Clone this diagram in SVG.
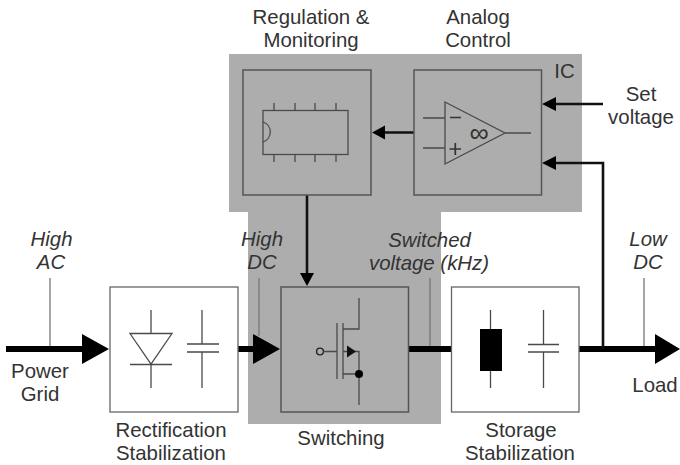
<svg xmlns="http://www.w3.org/2000/svg" width="680" height="465" viewBox="0 0 680 465">
<defs>
<style>
text{font-family:"Liberation Sans",Arial,sans-serif;font-size:20.400px;fill:#333;text-anchor:middle}
.i{font-style:italic}
.box{fill:none;stroke:#555;stroke-width:1.5}
.wbox{fill:#fff;stroke:#666;stroke-width:1.3}
.thin{fill:none;stroke:#777;stroke-width:1.3}
.sym{fill:none;stroke:#4a4a4a;stroke-width:1.3}
.sign{fill:none;stroke:#333;stroke-width:1.700}
.med{fill:none;stroke:#111;stroke-width:2.600}
.thick{fill:none;stroke:#000;stroke-width:6}
</style>
</defs>
<rect width="680" height="465" fill="#fff"/>
<path id="gray-region" d="M229 54H582V212H441V424H248V212H229Z" fill="#adadad"/>
<g id="connectors">
<path class="thin" d="M50 278V349M259 278V336M430 278V349M644 278V349"/>
<path class="thick" d="M6 349H84M238 349H255M408 349H452M579 349H657"/>
<path d="M82 334L109 349L82 364ZM253 334L280 349L253 364ZM655 334L680 349L655 364Z" fill="#000"/>
<path class="med" d="M414 132.500H384M307 195V274M603 349V163H555M603 104H555"/>
<path d="M372 132.500L385 125.500V139.500ZM307 286L300 273H314ZM542 163L556 156V170ZM542 104L556 97V111Z" fill="#000"/>
</g>
<g id="regulation">
<rect class="box" x="243" y="70" width="128" height="125"/>
<rect class="sym" x="263" y="110.500" width="85" height="44"/>
<path class="sym" d="M263 122A10.500 10.500 0 0 1 263 142M274 103V110M295 103V110M315 103V110M336 103V110M274 155V162M295 155V162M315 155V162M336 155V162"/>
<text x="311" y="24">Regulation &amp;</text>
<text x="311" y="47">Monitoring</text>
</g>
<g id="analog">
<rect class="box" x="414" y="70" width="127.500" height="125"/>
<path class="sym" d="M445 102L505 133L445 164ZM423 118H445M423 148H445M505 133H531"/>
<path class="sign" d="M450 117.500H461M449.500 149H461M455.300 143V155"/>
<text x="479" y="142" style="font-size:27px;fill:#333">∞</text>
<text x="478" y="24">Analog</text>
<text x="478" y="47">Control</text>
<text x="564.500" y="78">IC</text>
</g>
<g id="set-voltage">
<text x="641" y="101">Set</text>
<text x="641" y="124">voltage</text>
</g>
<g id="rectification">
<rect class="wbox" x="110" y="287" width="128" height="125"/>
<path class="sym" d="M151 310V334M130 333.500H172L151 364ZM130 364.500H172M151 364V388M202 310V344M202 352V388M187 344H219M187 352H219"/>
<text x="171" y="437">Rectification</text>
<text x="171" y="460">Stabilization</text>
</g>
<g id="switching">
<rect class="box" x="281" y="287" width="127.500" height="125"/>
<circle cx="320" cy="351.500" r="3.400" fill="none" stroke="#222" stroke-width="1.400"/>
<path class="sym" d="M323.500 351.500H337M337 323V379M343 323V379M343 329H359V298M343 351.500H359V405M343 374H359"/>
<path d="M347 345.500L356 351.500L347 357.500Z" fill="#111"/>
<circle cx="359" cy="374" r="4" fill="#000"/>
<text x="341" y="445">Switching</text>
</g>
<g id="storage">
<rect class="wbox" x="451.500" y="287" width="127.500" height="125"/>
<path class="sym" d="M490.500 310V388M543.500 310V344M543.500 352V388M528 344.500H559M528 352H559"/>
<rect x="480" y="329" width="22" height="42" fill="#000"/>
<text x="521" y="437">Storage</text>
<text x="520" y="460">Stabilization</text>
</g>
<g id="labels">
<text class="i" x="51.500" y="246">High</text>
<text class="i" x="51" y="269">AC</text>
<text class="i" x="262" y="246">High</text>
<text class="i" x="262" y="269">DC</text>
<text class="i" x="429.500" y="247">Switched</text>
<text class="i" x="429" y="270">voltage (kHz)</text>
<text class="i" x="648" y="246">Low</text>
<text class="i" x="648" y="269">DC</text>
<text x="40" y="378">Power</text>
<text x="40" y="401">Grid</text>
<text x="655" y="392">Load</text>
</g>
</svg>
